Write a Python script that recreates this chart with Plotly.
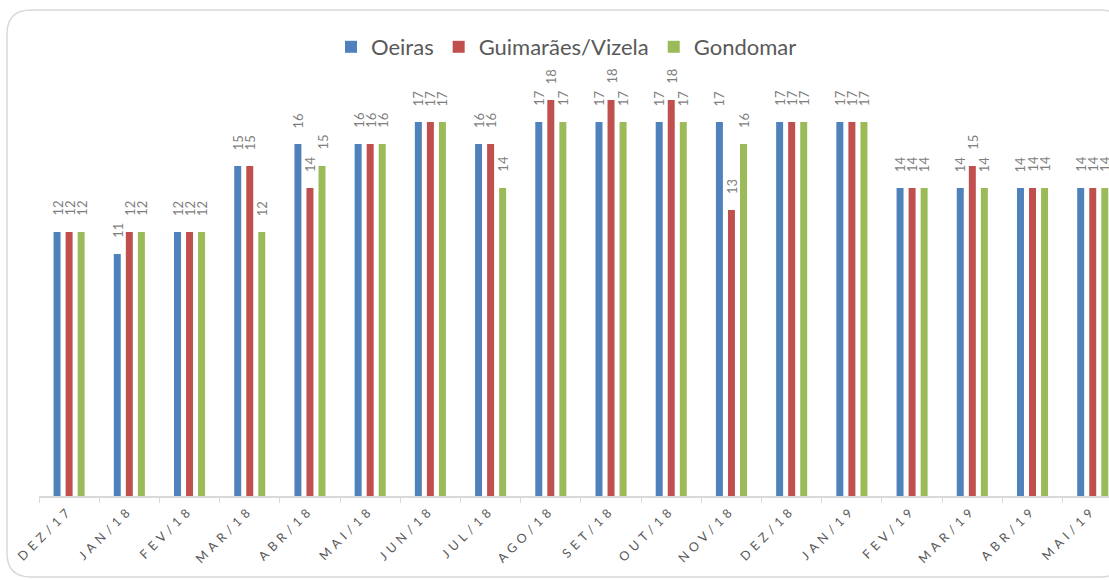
import plotly.graph_objects as go

months = ["DEZ/17", "JAN/18", "FEV/18", "MAR/18", "ABR/18", "MAI/18", "JUN/18", "JUL/18",
          "AGO/18", "SET/18", "OUT/18", "NOV/18", "DEZ/18", "JAN/19", "FEV/19", "MAR/19",
          "ABR/19", "MAI/19"]
oeiras = [12, 11, 12, 15, 16, 16, 17, 16, 17, 17, 17, 17, 17, 17, 14, 14, 14, 14]
guimaraes = [12, 12, 12, 15, 14, 16, 17, 16, 18, 18, 18, 13, 17, 17, 14, 15, 14, 14]
gondomar = [12, 12, 12, 12, 15, 16, 17, 14, 17, 17, 17, 16, 17, 17, 14, 14, 14, 14]

series = [("Oeiras", oeiras, "#4F81BD"),
          ("Guimarães/Vizela", guimaraes, "#C0504D"),
          ("Gondomar", gondomar, "#9BBB59")]

W, H = 1109, 580
ML, MR, MT, MB = 39, 0, 60, 84
pw, ph = W - ML - MR, H - MT - MB
cat_px = 60.2
slot_px = cat_px * (1 - 0.40) / 3

fig = go.Figure()
annotations = []
for i, (name, vals, col) in enumerate(series):
    fig.add_trace(go.Bar(
        x=months, y=vals, name=name, marker=dict(color=col, line=dict(width=0)),
    ))
    for m, v in zip(months, vals):
        annotations.append(dict(
            x=m, y=v, xref="x", yref="y", text=str(v), showarrow=False,
            textangle=-90, xanchor="center", yanchor="bottom",
            xshift=(i - 1) * slot_px, yshift=14,
            font=dict(color="#7F7F7F", size=13, family="Lato"),
        ))

def px(x):
    return (x - ML) / pw

def py(y):
    return (H - MB - y) / ph

x0, y0, x1, y1, r = 7, 10, 1124, 577, 24
path = (f"M {px(x0 + r)},{py(y0)} L {px(x1 - r)},{py(y0)} Q {px(x1)},{py(y0)} {px(x1)},{py(y0 + r)} "
        f"L {px(x1)},{py(y1 - r)} Q {px(x1)},{py(y1)} {px(x1 - r)},{py(y1)} "
        f"L {px(x0 + r)},{py(y1)} Q {px(x0)},{py(y1)} {px(x0)},{py(y1 - r)} "
        f"L {px(x0)},{py(y0 + r)} Q {px(x0)},{py(y0)} {px(x0 + r)},{py(y0)} Z")

fig.update_layout(
    width=W, height=H,
    margin=dict(l=ML, r=MR, t=MT, b=MB),
    paper_bgcolor="white", plot_bgcolor="white",
    barmode="group", bargap=0.40, bargroupgap=0.42,
    font=dict(family="Lato", color="#595959"),
    legend=dict(orientation="h", x=0.493, xanchor="center", y=py(47), yanchor="middle",
                font=dict(size=22, color="#595959", family="Lato"), itemclick=False),
    xaxis=dict(type="category", range=[-0.5, 17.27], showgrid=False, showline=True,
               linecolor="#D9D9D9", linewidth=1.5, ticks="outside", tickson="boundaries",
               ticklen=5, tickcolor="#D9D9D9", tickangle=-45,
               tickfont=dict(size=12.5, color="#595959", family="Lato")),
    yaxis=dict(range=[0, (H - MB - MT) / 22.0], visible=False, showgrid=False),
    shapes=[dict(type="path", path=path, xref="paper", yref="paper",
                 line=dict(color="#D9D9D9", width=1.5), layer="below")],
    annotations=annotations,
)

post = ("document.body.style.margin='0';"
        "document.querySelectorAll('.xtick text').forEach(function(t){t.style.letterSpacing='4.5px';});")
fig.write_html("out.html", post_script=post, config={"displayModeBar": False})
